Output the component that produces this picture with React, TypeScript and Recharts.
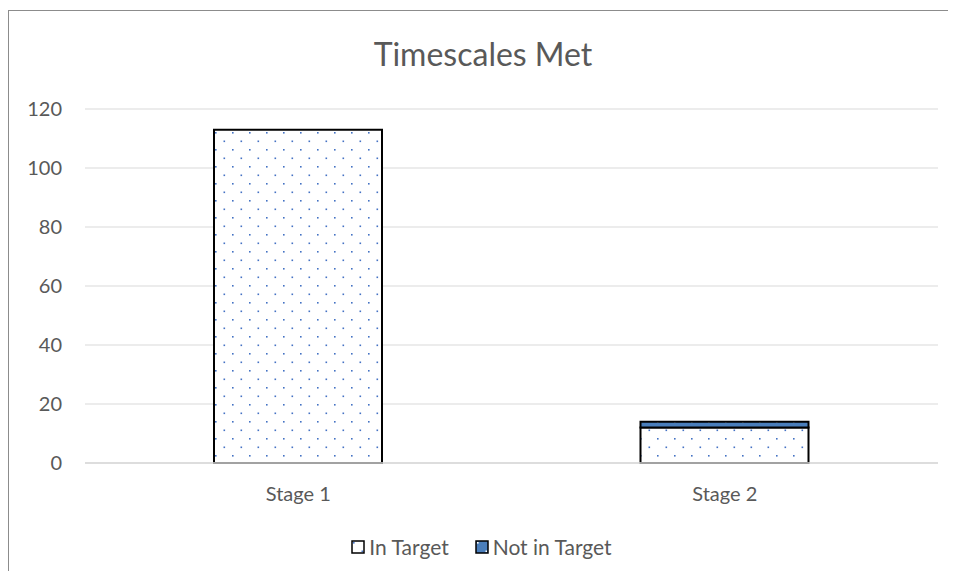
import React from 'react';
import { BarChart, Bar, XAxis, YAxis, CartesianGrid, Legend } from 'recharts';

const stages = ['Stage 1', 'Stage 2'];
const inTarget = [113, 12];
const notInTarget = [0, 2];
const yTicks = [0, 20, 40, 60, 80, 100, 120];

const data = stages.map((stage, i) => ({
    stage,
    inTarget: inTarget[i],
    notInTarget: notInTarget[i],
}));

const FONT = 'Lato, "Liberation Sans", sans-serif';
const GREY = '#595959';

function LegendBox({ fill }: { fill: string }) {
    return (
        <svg width={14} height={14} style={{ marginRight: 4 }}>
            <rect x={1} y={1} width={12} height={12} fill={fill} stroke="#000" strokeWidth={1.5} />
        </svg>
    );
}

function renderLegend() {
    return (
        <div style={{ display: 'flex', justifyContent: 'center', alignItems: 'center', fontFamily: FONT, fontSize: 21, color: GREY, lineHeight: '24px' }}>
            <span style={{ display: 'flex', alignItems: 'center', marginRight: 26 }}>
                <LegendBox fill="url(#dotsWhite)" />In Target
            </span>
            <span style={{ display: 'flex', alignItems: 'center' }}>
                <LegendBox fill="url(#dotsBlue)" />Not in Target
            </span>
        </div>
    );
}

export default function App() {
    return (
        <div style={{ marginTop: 2, width: 948, height: 560, borderLeft: '1px solid #8c8c8c', borderTop: '1px solid #8c8c8c', position: 'relative', background: '#fff' }}>
            <div style={{ position: 'absolute', left: 0, width: 948, top: 23, textAlign: 'center', fontFamily: FONT, fontSize: 32, color: GREY }}>
                Timescales Met
            </div>
            <BarChart width={947} height={559} data={data} margin={{ top: 98, right: 18, left: 16, bottom: 53 }}>
                <defs>
                    <pattern id="dotsWhite" width={17} height={17} patternUnits="userSpaceOnUse">
                        <rect width={17} height={17} fill="#fff" />
                        <rect x={2} y={2} width={1.6} height={1.6} fill="#4472c4" />
                        <rect x={10.5} y={10.5} width={1.6} height={1.6} fill="#4472c4" />
                    </pattern>
                    <pattern id="dotsBlue" width={17} height={17} patternUnits="userSpaceOnUse">
                        <rect width={17} height={17} fill="#4a7ebb" />
                        <rect x={2} y={2} width={1.6} height={1.6} fill="#fff" />
                        <rect x={10.5} y={10.5} width={1.6} height={1.6} fill="#fff" />
                    </pattern>
                </defs>
                <CartesianGrid vertical={false} stroke="#d9d9d9" />
                <XAxis dataKey="stage" axisLine={{ stroke: '#d9d9d9', strokeWidth: 1.5 }} tickLine={false}
                    tick={{ fill: GREY, fontSize: 20, fontFamily: FONT }} tickMargin={18} />
                <YAxis domain={[0, 120]} ticks={yTicks} axisLine={false} tickLine={false} width={60}
                    tick={{ fill: GREY, fontSize: 20, fontFamily: FONT }} tickMargin={17} />
                <Legend verticalAlign="bottom" content={renderLegend} wrapperStyle={{ bottom: 11 }} />
                <Bar dataKey="inTarget" stackId="a" name="In Target" fill="url(#dotsWhite)" stroke="#000" strokeWidth={2} barSize={168} isAnimationActive={false} />
                <Bar dataKey="notInTarget" stackId="a" name="Not in Target" fill="url(#dotsBlue)" stroke="#000" strokeWidth={2} barSize={168} isAnimationActive={false} />
            </BarChart>
        </div>
    );
}
